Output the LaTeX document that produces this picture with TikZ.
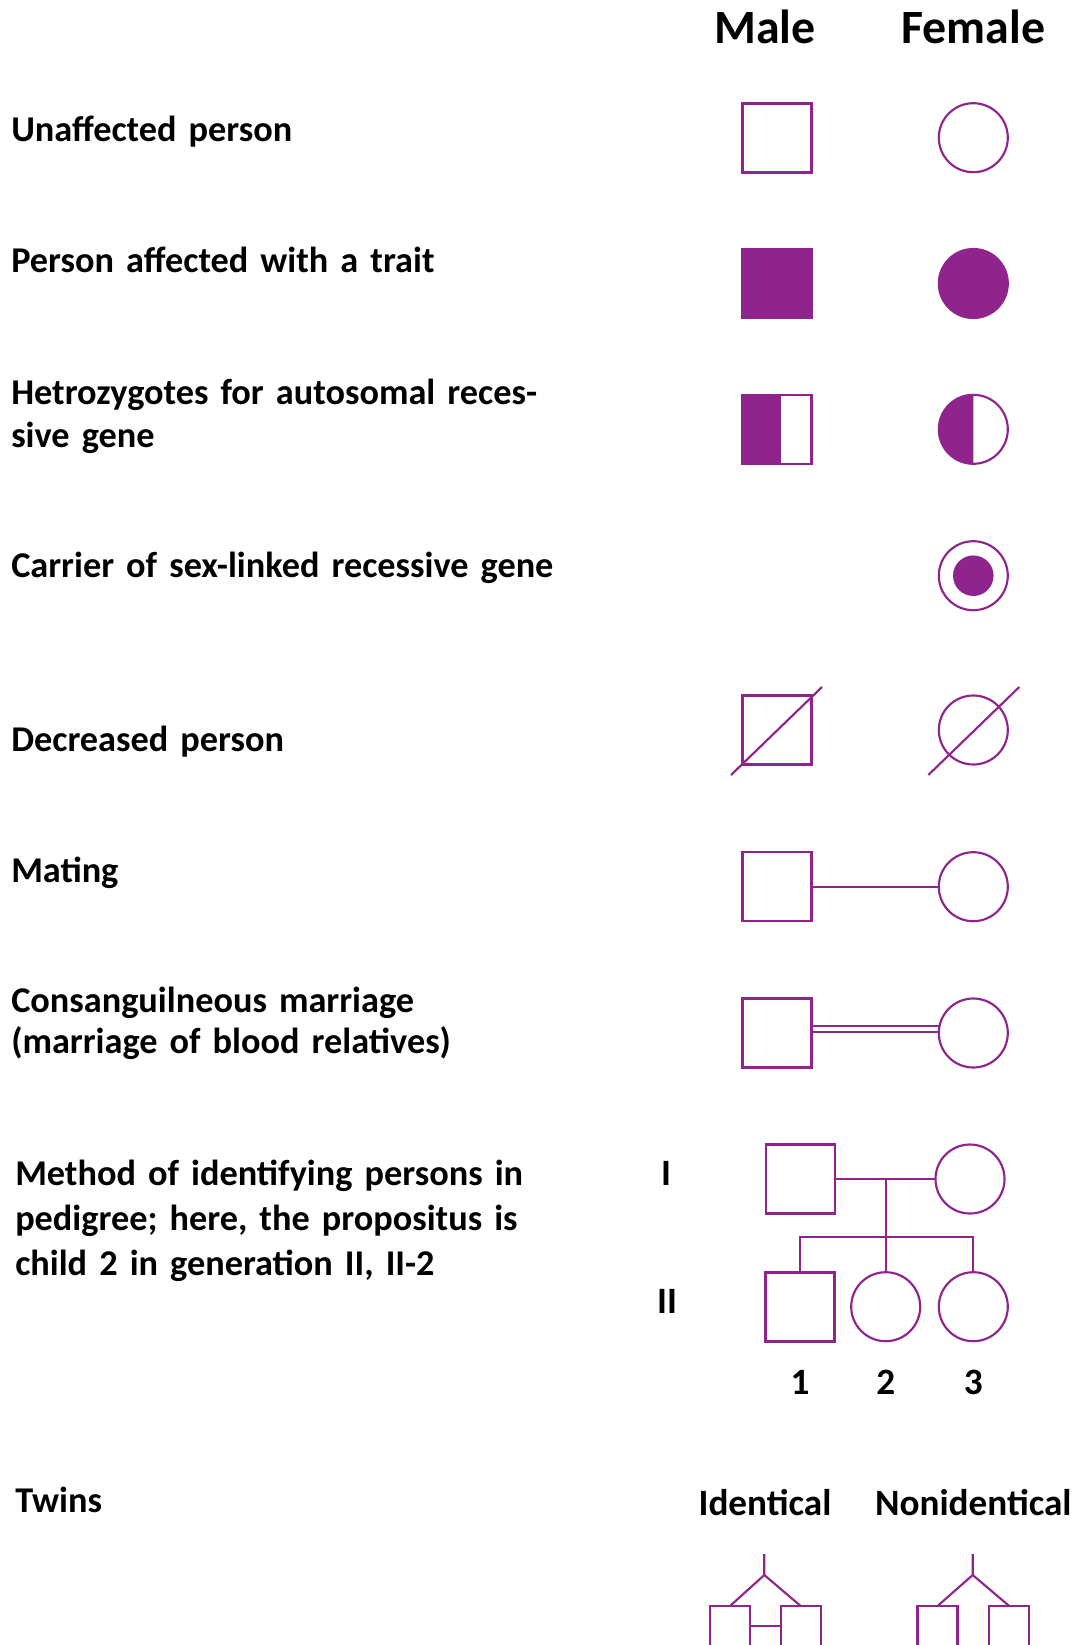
\documentclass[tikz,border=0pt]{standalone}
\usepackage{fontspec}
\setmainfont{Carlito}
\usetikzlibrary{calc}
\definecolor{pur}{RGB}{142,36,140}
\begin{document}
\begin{tikzpicture}[x=0.75pt,y=-0.75pt,
  sq/.style={draw=pur,line width=1.6pt,rectangle,minimum size=51.75pt,inner sep=0pt,outer sep=0pt},
  ci/.style={draw=pur,line width=1.6pt,circle,minimum size=51.75pt,inner sep=0pt,outer sep=0pt},
  tsq/.style={draw=pur,line width=1.6pt,rectangle,minimum size=30pt,inner sep=0pt,outer sep=0pt},
  ln/.style={draw=pur,line width=1.6pt},
  lbl/.style={anchor=base west,inner sep=0pt,text width=450pt,align=left,font=\bfseries\fontsize{27.2}{32.5}\selectfont},
  hdr/.style={anchor=base,inner sep=0pt,font=\bfseries\fontsize{35.9}{42}\selectfont},
  sml/.style={anchor=base,inner sep=0pt,font=\bfseries\fontsize{27.9}{33}\selectfont},
]
\useasboundingbox[fill=white] (0,0) rectangle (1077,1645);

% headers
\node[hdr] (hmale) at (765,43.3) {Male};
\node[hdr] (hfemale) at (973.3,43.3) {Female};

% left labels
\node[lbl] (l1) at (11,141.7) {Unaffected person};
\node[lbl] (l2) at (11,272.7) {Person affected with a trait};
\node[lbl] (l3) at (11,404) {Hetrozygotes for autosomal reces-\\sive gene};
\node[lbl] (l4) at (11,577) {Carrier of sex-linked recessive gene};
\node[lbl] (l5) at (11,751) {Decreased person};
\node[lbl] (l6) at (11,882.3) {Mating};
\node[lbl,font=\bfseries\fontsize{27.2}{30.5}\selectfont] (l7) at (11,1012.7) {Consanguilneous marriage\\(marriage of blood relatives)};
\node[lbl,font=\bfseries\fontsize{27.2}{33.75}\selectfont] (l8) at (15,1185) {Method of identifying persons in\\pedigree; here, the propositus is\\child 2 in generation II, II-2};
\node[lbl] (l9) at (15,1512) {Twins};

% row 1: unaffected
\node[sq] (m1) at (777,138) {};
\node[ci] (f1) at (973.3,137.7) {};
% row 2: affected
\node[sq,fill=pur] (m2) at (777,283.7) {};
\node[ci,fill=pur] (f2) at (973.3,283.5) {};
% row 3: heterozygotes
\node[sq] (m3) at (777,429.7) {};
\fill[pur] (m3.north west) rectangle ([xshift=28.8pt]m3.south west);
\node[ci] (f3) at (973.3,429.3) {};
\fill[pur] (f3.north) arc[start angle=90,end angle=270,radius=25.875pt] -- cycle;
% row 4: carrier
\node[ci] (f4) at (973.3,575.7) {};
\fill[pur] (f4.center) circle[radius=15.2pt];
% row 5: deceased
\node[sq] (m5) at (777,730) {};
\draw[ln] ([shift={(-46,45)}]m5.center) -- ([shift={(45,-43)}]m5.center);
\node[ci] (f5) at (973.3,730) {};
\draw[ln] ([shift={(-45,45)}]f5.center) -- ([shift={(46,-43)}]f5.center);
% row 6: mating
\node[sq] (m6) at (777,886.7) {};
\node[ci] (f6) at (973.3,886.7) {};
\draw[ln] (m6.east) -- (f6.west);
% row 7: consanguineous
\node[sq] (m7) at (777,1033) {};
\node[ci] (f7) at (973.3,1033) {};
\draw[ln] ([yshift=5pt]m7.east) -- ([yshift=5pt]f7.west);
\draw[ln] ([yshift=0.5pt]m7.east) -- ([yshift=0.5pt]f7.west);

% pedigree
\node[sml] (gI) at (666,1185) {I};
\node[sml] (gII) at (667,1313.3) {II};
\node[sq] (p1) at (800.8,1179) {};
\node[ci] (p2) at (970,1179) {};
\node[sq] (c1) at (800,1307) {};
\node[ci] (c2) at (885.7,1306.7) {};
\node[ci] (c3) at (973.3,1306.7) {};
\draw[ln] (p1.east) -- (p2.west);
\coordinate (mid) at (c2.north |- p1.east);
\coordinate (sib) at (885.7,1236.7);
\draw[ln] (mid) -- (c2.north);
\draw[ln] (c1.north) |- (sib) -| (c3.north);
\node[sml] (n1) at (800,1394) {1};
\node[sml] (n2) at (885.7,1394) {2};
\node[sml] (n3) at (973.3,1394) {3};

% twins
\node[sml] (hid) at (765,1515) {Identical};
\node[sml] (hnid) at (973.3,1515) {Nonidentical};
\node[tsq] (t1) at (730,1626) {};
\node[tsq] (t2) at (800.7,1626) {};
\coordinate (ta) at (764.3,1554);
\coordinate (tb) at (764.3,1575);
\draw[ln] (ta) -- (tb) -- (t1.north);
\draw[ln] (tb) -- (t2.north);
\draw[ln] (t1.east) -- (t2.west);
\node[tsq] (t3) at (937.5,1626) {};
\node[tsq] (t4) at (1009.2,1626) {};
\coordinate (ua) at (972.7,1554);
\coordinate (ub) at (972.7,1575);
\draw[ln] (ua) -- (ub) -- (t3.north);
\draw[ln] (ub) -- (t4.north);
\end{tikzpicture}
\end{document}
